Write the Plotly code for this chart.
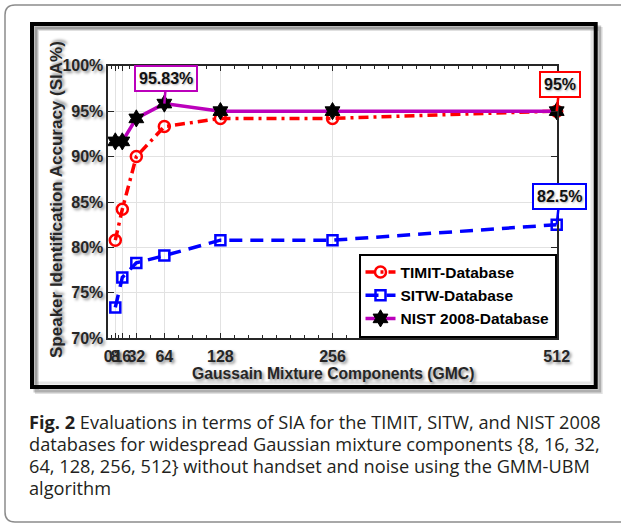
import plotly.graph_objects as go

W, H = 621, 526

# ---- data ----
gmc = [8, 16, 32, 64, 128, 256, 512]
timit = [80.8, 84.2, 90.0, 93.3, 94.2, 94.2, 95.0]
sitw = [73.4, 76.7, 78.3, 79.1, 80.8, 80.8, 82.5]
nist = [91.67, 91.67, 94.2, 95.83, 95.0, 95.0, 95.0]
x_tick_vals = [0, 8, 16, 32, 64, 128, 256, 512]
y_tick_vals = [70, 75, 80, 85, 90, 95, 100]
y_tick_text = [f"{v}%" for v in y_tick_vals]
minor_x = [4, 12, 24] + [v for v in range(48, 512, 16) if v not in (64, 128, 256)]
callout_x = [64, 512, 512]
callout_y = [95.83, 95.0, 82.5]
callout_text = ["95.83%", "95%", "82.5%"]
callout_color = ["#BB00BB", "#FF0000", "#0000FF"]
callout_off = [(2, -25), (3, -27), (3, -28)]

caption_lines = [
    "<b>Fig. 2</b> Evaluations in terms of SIA for the TIMIT, SITW, and NIST 2008",
    "databases for widespread Gaussian mixture components {8, 16, 32,",
    "64, 128, 256, 512} without handset and noise using the GMM-UBM",
    "algorithm",
]


def px(x):
    return x / W


def py(y):
    return 1 - y / H


FONT = "Liberation Sans, Arial, sans-serif"
SHADOW = "2px 2px 3px rgba(0,0,0,0.45)"
TXT = "#262626"

fig = go.Figure()
fig.add_trace(go.Scatter(
    x=gmc, y=timit, name="TIMIT-Database", mode="lines+markers",
    line=dict(color="#FF0000", width=3.5, dash="10px,5px,3px,5px"),
    marker=dict(symbol="circle-open", size=11, color="#FF0000", line=dict(width=2.5)),
    cliponaxis=False))
fig.add_trace(go.Scatter(
    x=gmc, y=sitw, name="SITW-Database", mode="lines+markers",
    line=dict(color="#0000FF", width=3.5, dash="13px,8px"),
    marker=dict(symbol="square-open", size=10, color="#0000FF", line=dict(width=2.5)),
    cliponaxis=False))
fig.add_trace(go.Scatter(
    x=gmc, y=nist, name="NIST 2008-Database", mode="lines+markers",
    line=dict(color="#BB00BB", width=3.5),
    marker=dict(symbol="hexagram", size=13, color="#000000", line=dict(width=1, color="#000000")),
    cliponaxis=False))

shapes = []
# outer rounded card border
r = 10
x0, y0, x1, y1 = 5, 5, 640, 522
path = (f"M {px(x0 + r)},{py(y0)} L {px(x1)},{py(y0)} "
        f"M {px(x0 + r)},{py(y0)} Q {px(x0)},{py(y0)} {px(x0)},{py(y0 + r)} "
        f"L {px(x0)},{py(y1 - r)} Q {px(x0)},{py(y1)} {px(x0 + r)},{py(y1)} L {px(x1)},{py(y1)}")
shapes.append(dict(type="path", xref="paper", yref="paper", path=path,
                   line=dict(color="#8c8c8c", width=1.5), layer="below"))
# chart frame shadow
for off, op in [(5, 0.12), (3.5, 0.22)]:
    shapes.append(dict(type="rect", xref="paper", yref="paper",
                       x0=px(32 + off), x1=px(595.7 + off), y0=py(387 + off), y1=py(24 + off),
                       line=dict(color=f"rgba(0,0,0,{op})", width=4), layer="below"))
# inner shadow
shapes.append(dict(type="rect", xref="paper", yref="paper",
                   x0=px(36), x1=px(592), y0=py(383), y1=py(28),
                   line=dict(color="rgba(0,0,0,0.10)", width=3), layer="below"))
# black frame
shapes.append(dict(type="rect", xref="paper", yref="paper",
                   x0=px(32), x1=px(595.7), y0=py(387), y1=py(24),
                   line=dict(color="#000000", width=4), layer="below"))

annotations = []
for cx, cy, t, c, (ax, ay) in zip(callout_x, callout_y, callout_text, callout_color, callout_off):
    annotations.append(dict(
        x=cx, y=cy, xref="x", yref="y", text=f"<b>{t}</b>", showarrow=True,
        ax=ax, ay=ay, arrowhead=0, arrowwidth=2.5, arrowcolor=c,
        bordercolor=c, borderwidth=2, borderpad=3, bgcolor="white",
        font=dict(family=FONT, size=16, color="#111111", shadow="1px 1px 2px rgba(0,0,0,0.3)")))

# axis titles
annotations.append(dict(
    x=px(57), y=py(200), xref="paper", yref="paper", xanchor="center", yanchor="middle",
    textangle=-90, text="<b>Speaker Identification Accuracy (SIA%)</b>", showarrow=False,
    font=dict(family=FONT, size=17, color=TXT, shadow=SHADOW)))
annotations.append(dict(
    x=px(332.5), y=py(373), xref="paper", yref="paper", xanchor="center", yanchor="middle",
    text="<b>Gaussain Mixture Components (GMC)</b>", showarrow=False,
    font=dict(family=FONT, size=15.7, color=TXT, shadow=SHADOW)))
# caption, one annotation per line
for i, line in enumerate(caption_lines):
    annotations.append(dict(
        x=px(27), y=py(422 + 22 * i), xref="paper", yref="paper",
        xanchor="left", yanchor="middle", align="left", text=line, showarrow=False,
        font=dict(family="Open Sans, sans-serif", size=18.2, color="#231f20")))

fig.update_layout(
    width=W, height=H, margin=dict(l=0, r=0, t=0, b=0, autoexpand=False),
    paper_bgcolor="white", plot_bgcolor="white",
    shapes=shapes, annotations=annotations,
    legend=dict(x=px(556.5), y=py(337.5), xanchor="right", yanchor="bottom",
                bordercolor="#000000", borderwidth=2, bgcolor="white",
                font=dict(family=FONT, size=15.5, color="#000000", weight="bold"),
                tracegroupgap=0),
    xaxis=dict(domain=[px(108.3), px(556.7)], range=[0, 512], tickmode="array",
               tickvals=x_tick_vals, ticktext=[str(v) for v in x_tick_vals], tickangle=0,
               ticks="inside", ticklen=6, tickwidth=1.2, tickcolor=TXT,
               showline=True, linecolor=TXT, linewidth=1.5, mirror="ticks",
               showgrid=True, gridcolor="#e2e2e2", gridwidth=1, zeroline=False,
               automargin=False, ticklabelstandoff=3,
               tickfont=dict(family=FONT, size=16, color=TXT, weight="bold", shadow=SHADOW),
               minor=dict(tickmode="array", tickvals=minor_x, ticks="inside", ticklen=4,
                          tickwidth=1, tickcolor=TXT, showgrid=False)),
    yaxis=dict(domain=[py(338.3), py(65.7)], range=[70, 100], tickmode="array",
               tickvals=y_tick_vals, ticktext=y_tick_text,
               ticks="inside", ticklen=6, tickwidth=1.2, tickcolor=TXT,
               showline=True, linecolor=TXT, linewidth=1.5, mirror="ticks",
               showgrid=True, gridcolor="#e2e2e2", gridwidth=1, zeroline=False,
               automargin=False,
               tickfont=dict(family=FONT, size=16, color=TXT, weight="bold", shadow=SHADOW)),
)

fig.write_html("out.html", config={"displayModeBar": False},
               post_script="document.body.style.margin='0';document.body.style.overflow='hidden';")
